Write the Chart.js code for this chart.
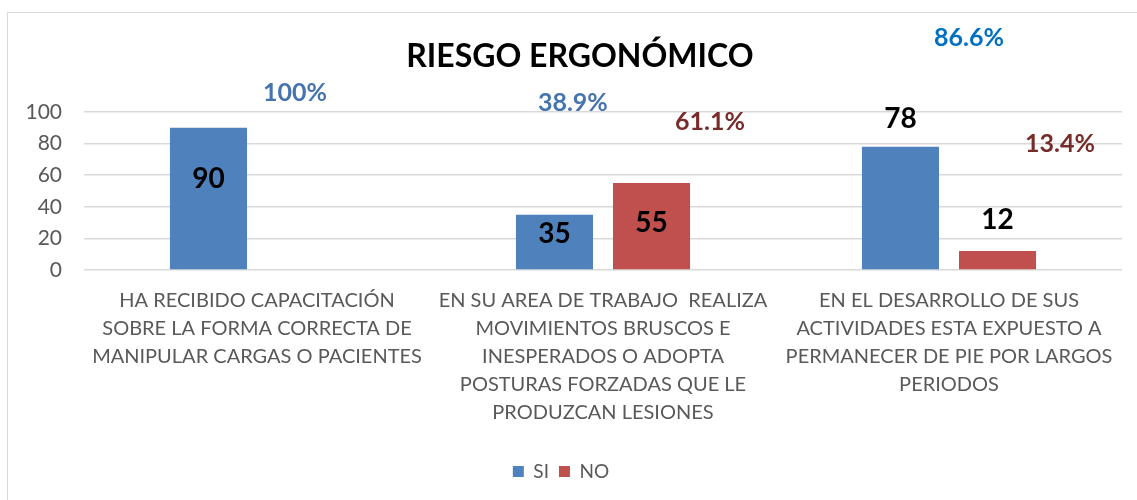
<!DOCTYPE html>
<html><head><meta charset="utf-8">
<script src="https://cdn.jsdelivr.net/npm/chart.js@4.4.0/dist/chart.umd.min.js"></script>
<style>
html,body{margin:0;padding:0;background:#fff;width:1137px;height:500px;overflow:hidden}
#frame{position:absolute;left:7px;top:12px;width:1140px;height:500px;border:1.5px solid #d9d9d9;box-sizing:border-box}
#wrap{position:absolute;left:0;top:0;width:1137px;height:500px}
</style></head><body>
<div id="frame"></div>
<div id="wrap"><canvas id="c"></canvas></div>
<script>
const chartTitle = 'RIESGO ERGONÓMICO';
const categories = [
  ['HA RECIBIDO CAPACITACIÓN', 'SOBRE LA FORMA CORRECTA DE', 'MANIPULAR CARGAS O PACIENTES'],
  ['EN SU AREA DE TRABAJO  REALIZA', 'MOVIMIENTOS BRUSCOS E', 'INESPERADOS O ADOPTA', 'POSTURAS FORZADAS QUE LE', 'PRODUZCAN LESIONES'],
  ['EN EL DESARROLLO DE SUS', 'ACTIVIDADES ESTA EXPUESTO A', 'PERMANECER DE PIE POR LARGOS', 'PERIODOS']
];
const siValues = [90, 35, 78];
const noValues = [0, 55, 12];
const siPercent = ['100%', '38.9%', '86.6%'];
const noPercent = ['', '61.1%', '13.4%'];
const yTickMin = 0, yTickMax = 100, yTickStep = 20;

const labelPlugin = {
  id: 'barLabels',
  afterDatasetsDraw(chart, args, opts) {
    const ctx = chart.ctx;
    const xs = chart.scales.x, ys = chart.scales.y;
    ctx.save();
    ctx.textAlign = 'center';
    ctx.textBaseline = 'middle';
    ctx.font = opts.titleFont;
    ctx.fillStyle = '#000000';
    ctx.fillText(chartTitle, chart.width * opts.titleX, opts.titleY);
    ctx.font = opts.valueFont;
    chart.data.datasets.forEach((ds, di) => {
      const meta = chart.getDatasetMeta(di);
      meta.data.forEach((bar, i) => {
        const v = ds.data[i];
        if (!v) return;
        ctx.fillText(String(v), bar.x, bar.y + opts.valueOffsets[di][i]);
      });
    });
    ctx.font = opts.pctFont;
    opts.pct.forEach(group => {
      group.texts.forEach((t, i) => {
        if (!t) return;
        const p = group.pos[i];
        if (!p) return;
        ctx.fillStyle = group.colors[i];
        ctx.fillText(t, xs.getPixelForValue(p[0]), ys.getPixelForValue(p[1]));
      });
    });
    ctx.restore();
  }
};

new Chart(document.getElementById('c'), {
  type: 'bar',
  data: {
    labels: categories,
    datasets: [
      { label: 'SI', data: siValues, backgroundColor: '#4F81BD', categoryPercentage: 0.561, barPercentage: 0.794 },
      { label: 'NO', data: noValues, backgroundColor: '#C0504D', categoryPercentage: 0.561, barPercentage: 0.794 }
    ]
  },
  plugins: [labelPlugin],
  options: {
    responsive: true,
    maintainAspectRatio: false,
    animation: false,
    layout: { padding: { left: 0, right: 15, top: 112, bottom: 9 } },
    scales: {
      x: {
        afterFit(scale) { scale.height = 182; },
        grid: { display: false, drawTicks: false },
        border: { display: false },
        ticks: { color: '#595959', font: { family: 'Lato', size: 20, lineHeight: 1.4 }, maxRotation: 0, minRotation: 0, autoSkip: false, padding: 17 }
      },
      y: {
        min: yTickMin, max: yTickMax,
        afterFit(scale) { scale.width = 84; },
        grid: { color: '#d9d9d9', lineWidth: 1.5, drawTicks: false },
        border: { display: false },
        ticks: { stepSize: yTickStep, color: '#595959', font: { family: 'Lato', size: 21 }, padding: 22 }
      }
    },
    plugins: {
      title: { display: false },
      legend: {
        position: 'bottom',
        labels: { color: '#595959', font: { family: 'Lato', size: 19 }, boxWidth: 11, boxHeight: 11, padding: 10 }
      },
      tooltip: { enabled: false },
      barLabels: {
        titleFont: 'bold 32px Lato',
        titleX: 0.51,
        titleY: 57,
        valueFont: 'bold 28px Lato',
        pctFont: 'bold 25px Lato',
        valueOffsets: [[51, 19, -28], [0, 40, -31]],
        pct: [
          { texts: siPercent, colors: ['#4674AE', '#4674AE', '#0070C0'], pos: [[0.11, 112], [0.913, 105.7], [2.058, 147]] },
          { texts: noPercent, colors: ['#772C2A', '#772C2A', '#772C2A'], pos: [null, [1.309, 94], [2.321, 80]] }
        ]
      }
    }
  }
});
</script>
</body></html>
